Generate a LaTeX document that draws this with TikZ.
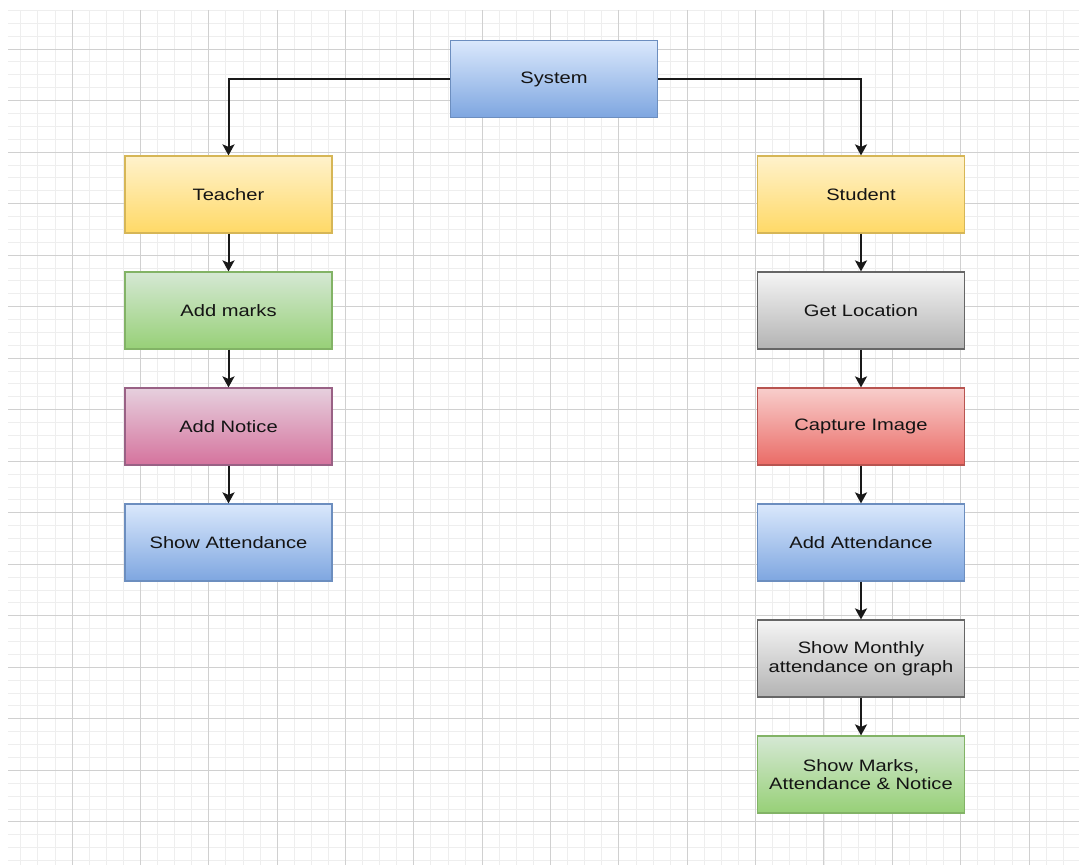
\documentclass[tikz,border=0pt]{standalone}
\usepackage{fontspec}
\setmainfont{Liberation Sans}
\usetikzlibrary{arrows.meta}
\definecolor{bfill}{HTML}{DAE8FC}\definecolor{bgrad}{HTML}{7EA6E0}\definecolor{bstroke}{HTML}{6C8EBF}
\definecolor{yfill}{HTML}{FFF2CC}\definecolor{ygrad}{HTML}{FFD966}\definecolor{ystroke}{HTML}{D6B656}
\definecolor{gfill}{HTML}{D5E8D4}\definecolor{ggrad}{HTML}{97D077}\definecolor{gstroke}{HTML}{82B366}
\definecolor{pfill}{HTML}{E6D0DE}\definecolor{pgrad}{HTML}{D5739D}\definecolor{pstroke}{HTML}{996185}
\definecolor{kfill}{HTML}{F5F5F5}\definecolor{kgrad}{HTML}{B3B3B3}\definecolor{kstroke}{HTML}{666666}
\definecolor{rfill}{HTML}{F8CECC}\definecolor{rgrad}{HTML}{EA6B66}\definecolor{rstroke}{HTML}{B85450}
\definecolor{gridminor}{HTML}{EEEEEE}\definecolor{gridmajor}{HTML}{D0D0D0}
\definecolor{txt}{HTML}{141414}
\newcommand{\hs}[1]{\scalebox{1.22}[1]{#1}}
\tikzset{
  box/.style={draw, line width=1.2pt, minimum width=207pt, minimum height=77pt, inner sep=0pt,
    align=center, text=txt, font=\fontsize{16.5}{18.5}\selectfont},
  bluebox/.style={box, top color=bfill, bottom color=bgrad, draw=bstroke},
  yellowbox/.style={box, top color=yfill, bottom color=ygrad, draw=ystroke},
  greenbox/.style={box, top color=gfill, bottom color=ggrad, draw=gstroke},
  pinkbox/.style={box, top color=pfill, bottom color=pgrad, draw=pstroke},
  greybox/.style={box, top color=kfill, bottom color=kgrad, draw=kstroke},
  redbox/.style={box, top color=rfill, bottom color=rgrad, draw=rstroke},
  conn/.style={line width=2pt, draw=black!90, -{Stealth[length=11pt,width=12pt,inset=2.5pt]}},
  minorline/.style={draw=gridminor, line width=0.8pt},
  majorline/.style={draw=gridmajor, line width=1pt},
}
\begin{document}
\begin{tikzpicture}[x=1pt,y=-1pt]
\useasboundingbox (0,0) rectangle (1079,865);
\fill[white] (0,0) rectangle (1079,865);
% grid
\foreach \i in {1,...,62} {\draw[minorline] ({3.64+\i*17.09},10) -- ({3.64+\i*17.09},865);}
\foreach \j in {1,...,67} {\draw[minorline] (8,{-2.53+\j*12.88}) -- (1079,{-2.53+\j*12.88});}
\foreach \i in {1,...,15} {\draw[majorline] ({3.64+\i*68.36},10) -- ({3.64+\i*68.36},865);}
\foreach \j in {1,...,16} {\draw[majorline] (8,{-2.53+\j*51.53}) -- (1079,{-2.53+\j*51.53});}
% nodes
\node[bluebox]   (sys)   at (554,79)    {\hs{System}};
\node[yellowbox] (teach) at (228.5,194.5) {\hs{Teacher}};
\node[greenbox]  (marks) at (228.5,310.5) {\hs{Add marks}};
\node[pinkbox]   (notice) at (228.5,426.5) {\hs{Add Notice}};
\node[bluebox]   (showatt) at (228.5,542.5) {\hs{Show Attendance}};
\node[yellowbox] (stud)  at (861,194.5) {\hs{Student}};
\node[greybox]   (loc)   at (861,310.5) {\hs{Get Location}};
\node[redbox]    (cap)   at (861,426.5) {\hs{Capture Image}};
\node[bluebox]   (addatt) at (861,542.5) {\hs{Add Attendance}};
\node[greybox]   (month) at (861,658.5) {\hs{Show Monthly}\\\hs{attendance on graph}};
\node[greenbox]  (showall) at (861,774.5) {\hs{Show Marks,}\\\hs{Attendance \& Notice}};
% connectors
\draw[conn] (sys.west) -| (teach.north);
\draw[conn] (sys.east) -| (stud.north);
\draw[conn] (teach) -- (marks);
\draw[conn] (marks) -- (notice);
\draw[conn] (notice) -- (showatt);
\draw[conn] (stud) -- (loc);
\draw[conn] (loc) -- (cap);
\draw[conn] (cap) -- (addatt);
\draw[conn] (addatt) -- (month);
\draw[conn] (month) -- (showall);
\end{tikzpicture}
\end{document}
